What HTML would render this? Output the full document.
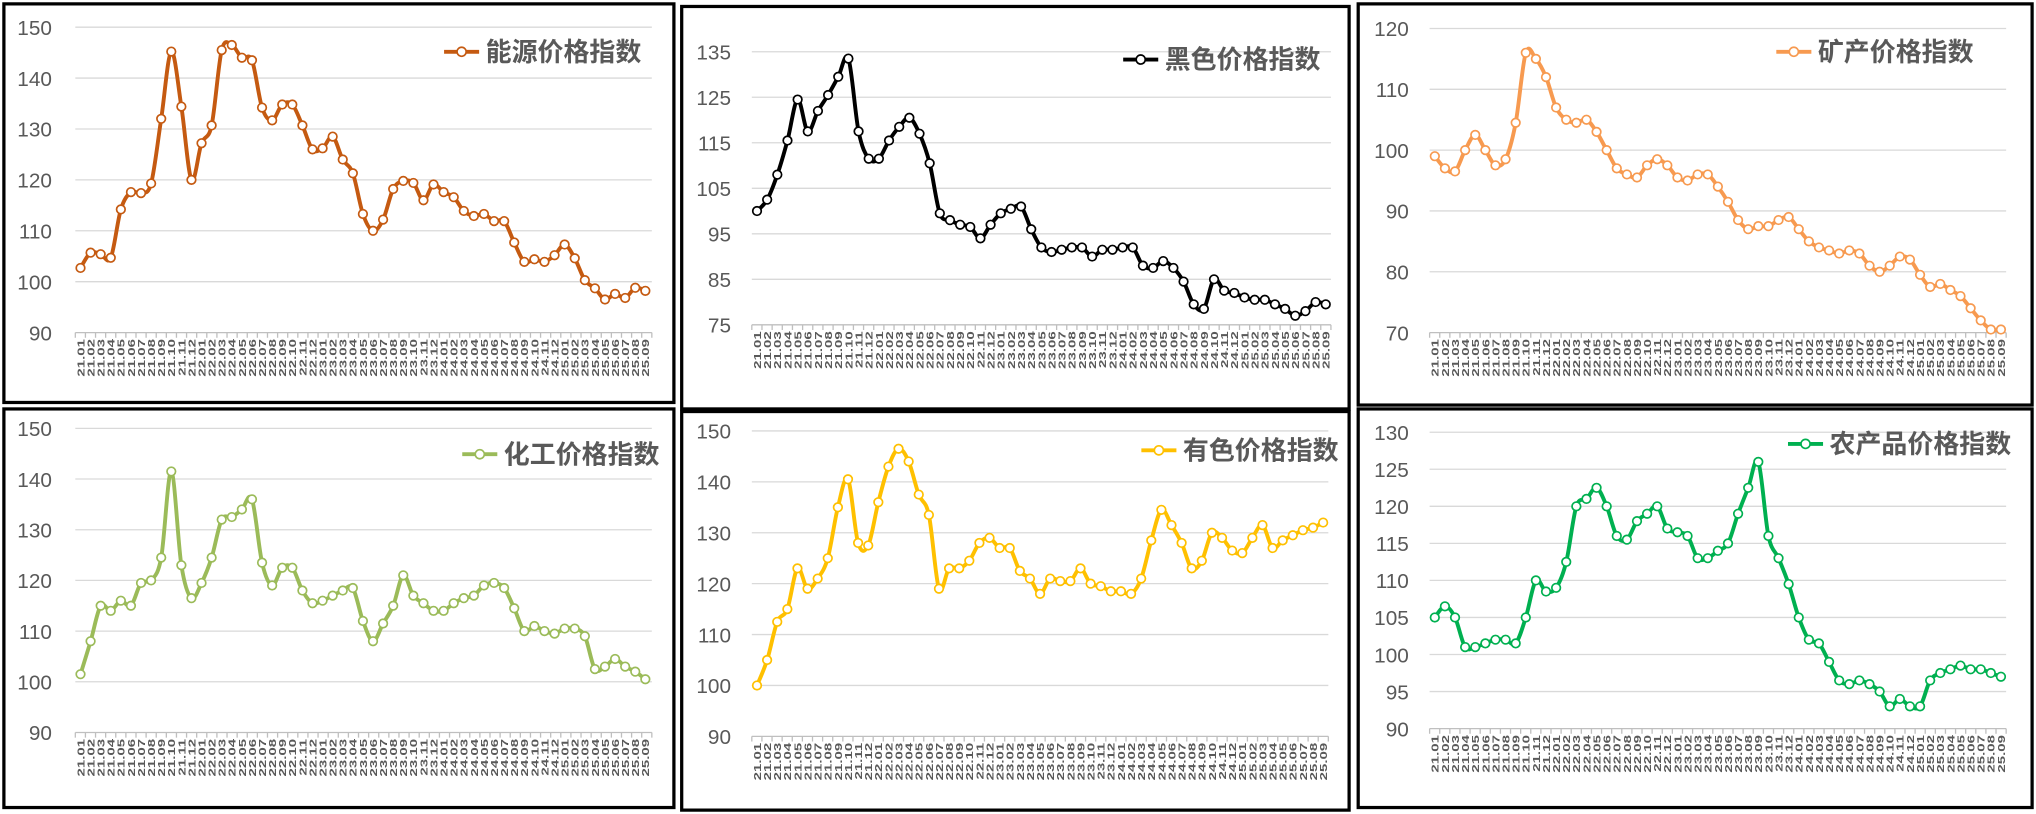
<!DOCTYPE html>
<html><head><meta charset="utf-8"><style>
html,body{margin:0;padding:0;background:#fff;}
svg{display:block;}
</style></head><body>
<svg id="s" width="2036" height="814" viewBox="0 0 1568 629" preserveAspectRatio="none" xmlns="http://www.w3.org/2000/svg">
<rect width="1568" height="629" fill="#fff"/>
</svg>
<script>
var NS="http://www.w3.org/2000/svg",S=document.getElementById('s');
function el(t,a,txt){var e=document.createElementNS(NS,t);for(var k in a)e.setAttribute(k,a[k]);if(txt!=null)e.textContent=txt;S.appendChild(e);return e;}
var labels=[];for(var y=21;y<=25;y++)for(var m=1;m<=12;m++){if(y==25&&m>9)break;labels.push(y+"."+(m<10?"0":"")+m);}
var P=[
{b:[3,3,516,308],x0:62,x1:497,g0:58,g1:502,vt:150,pt:21,vb:90,pb:257,st:10,lx:40,c:"#c55a11",lg:[342,40],n:"能源价格指数",
d:[102.7,105.7,105.4,104.7,114.2,117.6,117.4,119.3,132,145.2,134.4,120,127.2,130.7,145.5,146.5,144,143.5,134.2,131.7,134.8,134.8,130.7,126,126.2,128.5,124,121.3,113.3,110,112.2,118.2,119.8,119.4,116,119.1,117.6,116.6,113.9,112.9,113.3,111.9,111.9,107.7,103.9,104.4,103.9,105.2,107.3,104.6,100.3,98.7,96.5,97.6,96.8,98.8,98.2]},
{b:[525,5,514,311],x0:583,x1:1021,g0:579,g1:1025,vt:135,pt:40,vb:75,pb:251,st:10,lx:563,c:"#000",lg:[865,46],n:"黑色价格指数",
d:[100,102.5,108,115.5,124.5,117.5,122,125.5,129.5,133.5,117.5,111.5,111.5,115.5,118.5,120.5,117,110.5,99.5,98,97,96.5,94,97,99.5,100.5,101,96,92,91,91.5,92,92,90,91.5,91.5,92,92,88,87.5,89,87.5,84.5,79.5,78.5,85,82.5,82,81,80.5,80.5,79.5,78.5,77,78,80,79.5]},
{b:[1046,3,519,310],x0:1105,x1:1541,g0:1101,g1:1545,vt:120,pt:22,vb:70,pb:257,st:10,lx:1085,c:"#f79a50",lg:[1368,40],n:"矿产价格指数",
d:[99,97,96.5,100,102.5,100,97.5,98.5,104.5,116,115,112,107,105,104.5,105,103,100,97,96,95.5,97.5,98.5,97.5,95.5,95,96,96,94,91.5,88.5,87,87.5,87.5,88.5,89,87,85,84,83.5,83,83.5,83,81,80,81,82.5,82,79.5,77.5,78,77,76,74,72,70.5,70.5]},
{b:[3,316,516,308],x0:62,x1:497,g0:58,g1:502,vt:150,pt:331,vb:90,pb:566,st:10,lx:40,c:"#9bbb59",lg:[356,351],n:"化工价格指数",
d:[101.5,108,115,114,116,115,119.5,120,124.5,141.5,123,116.5,119.5,124.5,132,132.5,134,136,123.5,119,122.5,122.5,118,115.5,116,117,118,118.5,112,108,111.5,115,121,117,115.5,114,114,115.5,116.5,117,119,119.5,118.5,114.5,110,111,110,109.5,110.5,110.5,109,102.5,103,104.5,103,102,100.5]},
{b:[525,318,514,308],x0:583,x1:1019,g0:579,g1:1023,vt:150,pt:333,vb:90,pb:569,st:10,lx:563,c:"#ffc000",lg:[879,348],n:"有色价格指数",
d:[100,105,112.5,115,123,119,121,125,135,140.5,128,127.5,136,143,146.5,144,137.5,133.5,119,123,123,124.5,128,129,127,127,122.5,121,118,121,120.5,120.5,123,120,119.5,118.5,118.5,118,121,128.5,134.5,131.5,128,123,124.5,130,129,126.5,126,129,131.5,127,128.5,129.5,130.5,131,132]},
{b:[1046,316,519,308],x0:1105,x1:1541,g0:1101,g1:1545,vt:130,pt:334,vb:90,pb:563,st:5,lx:1085,c:"#00b050",lg:[1377,343],n:"农产品价格指数",
d:[105,106.5,105,101,101,101.5,102,102,101.5,105,110,108.5,109,112.5,120,121,122.5,120,116,115.5,118,119,120,117,116.5,116,113,113,114,115,119,122.5,126,116,113,109.5,105,102,101.5,99,96.5,96,96.5,96,95,93,94,93,93,96.5,97.5,98,98.5,98,98,97.5,97]}
];
var F='"Liberation Sans","Noto Sans CJK SC",sans-serif';
P.forEach(function(p){
 el('rect',{x:p.b[0],y:p.b[1],width:p.b[2],height:p.b[3],fill:'none',stroke:'#000','stroke-width':2.5});
 var Y=function(v){return p.pb+(v-p.vb)*(p.pt-p.pb)/(p.vt-p.vb);};
 for(var v=p.vb;v<=p.vt+0.01;v+=p.st){var yy=Y(v);
  el('line',{x1:p.g0,x2:p.g1,y1:yy,y2:yy,stroke:v==p.vb?'#bfbfbf':'#d9d9d9','stroke-width':1});
  el('text',{x:p.lx,y:yy+6,'text-anchor':'end','font-family':F,'font-size':16,fill:'#595959'},v);}
 var n=p.d.length,dx=(p.x1-p.x0)/(n-1);
 var pts=p.d.map(function(v,i){return [p.x0+i*dx,Y(v)];});
 for(var i=0;i<=n;i++){var tx=p.g0+i*(p.g1-p.g0)/n;el('line',{x1:tx,x2:tx,y1:p.pb,y2:p.pb+4,stroke:'#bfbfbf','stroke-width':1});}
 pts.forEach(function(q,i){el('text',{transform:'translate('+(q[0]+3)+','+(p.pb+5)+') rotate(-90) scale(1.45,1)','text-anchor':'end','font-family':F,'font-size':8,'font-weight':'bold',fill:'#595959'},labels[i]);});
 var d='M'+pts[0][0]+','+pts[0][1];
 for(var i=0;i<n-1;i++){var a=pts[i-1]||pts[i],b=pts[i],c=pts[i+1],e=pts[i+2]||c;
  d+=' C'+(b[0]+(c[0]-a[0])/6)+','+(b[1]+(c[1]-a[1])/6)+' '+(c[0]-(e[0]-b[0])/6)+','+(c[1]-(e[1]-b[1])/6)+' '+c[0]+','+c[1];}
 el('path',{d:d,fill:'none',stroke:p.c,'stroke-width':3,'stroke-linejoin':'round'});
 pts.forEach(function(q){el('circle',{cx:q[0],cy:q[1],r:3.3,fill:'#fff',stroke:p.c,'stroke-width':1.3});});
 var lx=p.lg[0],ly=p.lg[1];
 el('line',{x1:lx,x2:lx+27,y1:ly,y2:ly,stroke:p.c,'stroke-width':3});
 el('circle',{cx:lx+13.5,cy:ly,r:3.5,fill:'#fff',stroke:p.c,'stroke-width':1.3});
 el('text',{x:lx+32,y:ly+7,'font-family':F,'font-size':20,'font-weight':'bold',fill:'#595959'},p.n);
});
</script>
</body></html>
